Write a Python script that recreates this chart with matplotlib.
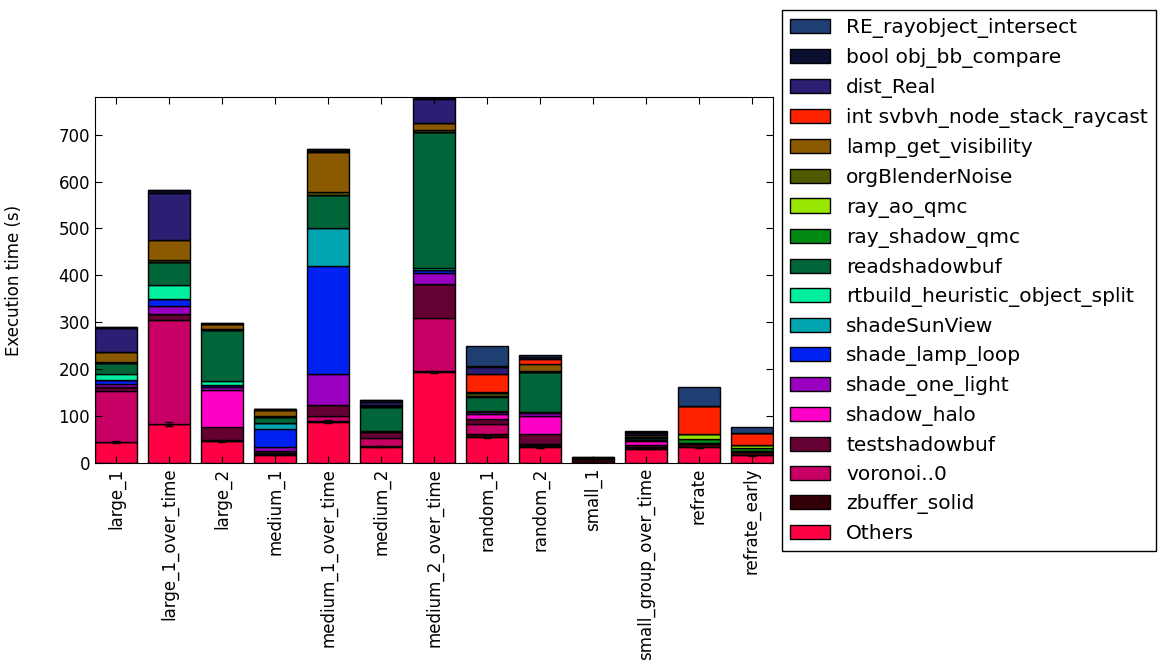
import numpy as np
import matplotlib
matplotlib.use("Agg")
import matplotlib.pyplot as plt

fsize = 12

benchmarks = ["large_1", "large_1_over_time", "large_2", "medium_1",
              "medium_1_over_time", "medium_2", "medium_2_over_time",
              "random_1", "random_2", "small_1", "small_group_over_time",
              "refrate", "refrate_early"]

# stacked from the bottom up
functions = ["Others", "zbuffer_solid", "voronoi..0", "testshadowbuf",
             "shadow_halo", "shade_one_light", "shade_lamp_loop",
             "shadeSunView", "rtbuild_heuristic_object_split",
             "readshadowbuf", "ray_shadow_qmc", "ray_ao_qmc",
             "orgBlenderNoise", "lamp_get_visibility",
             "int svbvh_node_stack_raycast", "dist_Real",
             "bool obj_bb_compare", "RE_rayobject_intersect"]

colors = ["#FF0044", "#330008", "#C80066", "#650033", "#FF00C8", "#9900C0",
          "#0022F0", "#00A5B0", "#00F0A0", "#00663A", "#008A14", "#99E600",
          "#4F5A00", "#8B5A00", "#FF2200", "#2A1F72", "#0B1030", "#1F3F72"]

# seconds per function, one list per benchmark (same order as functions)
large_1 =               [44, 1, 109, 7, 0, 7, 9, 0, 12, 24, 1, 0, 2, 21, 0, 50, 3, 0]
large_1_over_time =     [83, 1, 220, 13, 0, 17, 16, 0, 30, 48, 1, 0, 3, 43, 0, 100, 7, 1]
large_2 =               [47, 2, 1, 27, 78, 7, 4, 1, 8, 108, 0, 0, 3, 10, 0, 1, 2, 0]
medium_1 =              [18, 1, 3, 4, 0, 9, 38, 13, 0, 12, 0, 0, 2, 14, 0, 1, 1, 0]
medium_1_over_time =    [88, 2, 10, 23, 0, 66, 231, 81, 0, 71, 0, 0, 6, 84, 0, 3, 5, 0]
medium_2 =              [35, 1, 17, 13, 0, 2, 0, 0, 0, 52, 0, 0, 2, 2, 0, 7, 3, 0]
medium_2_over_time =    [194, 2, 113, 73, 0, 22, 8, 0, 3, 290, 0, 0, 5, 14, 0, 53, 3, 0]
random_1 =              [56, 5, 22, 10, 11, 5, 2, 0, 0, 30, 2, 0, 6, 3, 37, 15, 2, 43]
random_2 =              [33, 5, 3, 20, 40, 5, 3, 0, 0, 85, 0, 0, 3, 13, 11, 5, 1, 3]
small_1 =               [1, 8, 0, 1, 0, 0, 0, 0, 0, 0, 0, 0, 0, 0, 0, 1, 1, 0]
small_group_over_time = [30, 1, 3, 4, 8, 2, 0, 0, 0, 6, 0, 0, 2, 3, 0, 4, 4, 2]
refrate =               [33, 9, 0, 0, 0, 0, 0, 0, 0, 0, 10, 10, 0, 0, 60, 0, 0, 40]
refrate_early =         [16, 10, 0, 0, 0, 0, 0, 0, 0, 0, 5, 7, 0, 0, 26, 0, 0, 12]

# spread of the "Others" part
others_err = [2, 4, 2, 2, 3, 1, 3, 2, 1, 0, 1, 1, 1]

data = np.array([large_1, large_1_over_time, large_2, medium_1,
                 medium_1_over_time, medium_2, medium_2_over_time,
                 random_1, random_2, small_1, small_group_over_time,
                 refrate, refrate_early], dtype=float).T

fig, ax = plt.subplots()
fig.set_size_inches((11.63, 6.70))
fig.subplots_adjust(left=0.0817, right=0.6647, bottom=0.309, top=0.855)

x = np.arange(len(benchmarks))
bottom = np.zeros(len(benchmarks))
handles = []
for i, name in enumerate(functions):
    h = ax.bar(x, data[i], 0.8, bottom=bottom, color=colors[i],
               edgecolor="black", linewidth=1, label=name)
    if i == 0:
        ax.errorbar(x, data[i], yerr=others_err, fmt="none",
                    ecolor="black", elinewidth=1, capsize=3)
    handles.append(h)
    bottom += data[i]

ax.set_xlim(-0.4, len(benchmarks) - 0.6)
ax.set_ylim(0, bottom.max())
ax.set_yticks(np.arange(0, 800, 100))
ax.set_xticks(x)
ax.set_xticklabels(benchmarks, rotation=90, fontsize=fsize)
ax.tick_params(axis="y", labelsize=fsize)
ax.tick_params(direction="in", top=True, right=True, length=5)
ax.set_ylabel("Execution time (s)", fontsize=fsize)
ax.yaxis.set_label_coords(-0.106, 0.5)

ax.legend(handles[::-1], functions[::-1], loc="upper left",
          bbox_to_anchor=(1.013, 1.238), fontsize=14.5, fancybox=False,
          edgecolor="black", framealpha=1, labelspacing=0.5,
          handlelength=2.0, borderaxespad=0)

fig.savefig("out.png", dpi=100)
